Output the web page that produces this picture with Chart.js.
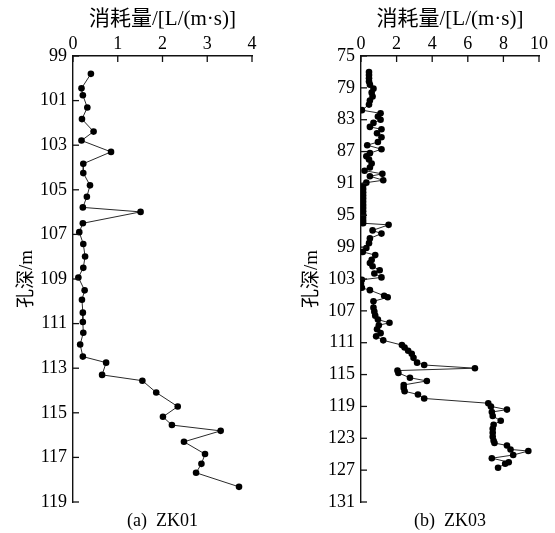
<!DOCTYPE html>
<html lang="zh">
<head>
<meta charset="UTF-8">
<title>ZK01 / ZK03 消耗量</title>
<script src="https://cdn.jsdelivr.net/npm/chart.js"></script>
<style>
  body { margin: 0; background: #fff; }
  #wrap { position: relative; width: 555px; height: 533px; }
  .box { position: absolute; top: 0; height: 533px; }
  #boxA { left: 0; width: 277px; }
  #boxB { left: 277px; width: 278px; }
</style>
</head>
<body>
<div id="wrap">
  <div class="box" id="boxA"><canvas id="zk01"></canvas></div>
  <div class="box" id="boxB"><canvas id="zk03"></canvas></div>
</div>
<script>
// ZK01: depth (m) and water loss
const depthZK01 = [99.8, 100.45, 100.76, 101.31, 101.83, 102.39, 102.79, 103.3, 103.83, 104.25,
  104.8, 105.31, 105.79, 105.99, 106.5, 106.9, 107.43, 107.99, 108.5, 108.93,
  109.51, 109.93, 110.51, 110.93, 111.41, 111.94, 112.48, 112.75, 113.3, 113.56,
  114.09, 114.72, 115.18, 115.55, 115.81, 116.3, 116.85, 117.29, 117.69, 118.32];
const flowZK01 = [0.4, 0.19, 0.22, 0.32, 0.2, 0.46, 0.19, 0.85, 0.23, 0.23,
  0.38, 0.31, 0.22, 1.51, 0.22, 0.14, 0.23, 0.27, 0.23, 0.12,
  0.26, 0.2, 0.22, 0.22, 0.23, 0.16, 0.22, 0.74, 0.65, 1.55,
  1.86, 2.34, 2.01, 2.21, 3.3, 2.48, 2.95, 2.87, 2.75, 3.71];

// ZK03
const depthZK03 = [77.0, 77.4, 77.8, 78.2, 78.6, 79.1, 79.6, 80.1, 80.6, 81.1,
  81.8, 82.2, 82.6, 83.0, 83.4, 83.9, 84.2, 84.7, 85.2, 85.8,
  86.2, 86.7, 87.2, 87.6, 88.0, 88.5, 89.0, 89.4, 89.8, 90.1,
  90.6, 90.9, 91.3, 91.7, 92.1, 92.5, 92.9, 93.3, 93.7, 94.1,
  94.5, 94.9, 95.3, 95.7, 96.0, 96.2, 96.9, 97.3, 97.9, 98.5,
  99.1, 99.6, 100.0, 100.6, 101.0, 101.4, 101.9, 102.3, 102.8, 103.1,
  103.6, 104.1, 104.4, 105.1, 105.3, 105.8, 106.6, 107.1, 107.6, 108.1,
  108.5, 108.8, 109.3, 109.8, 110.2, 110.7, 111.3, 111.6, 112.0, 112.4,
  112.9, 113.5, 113.8, 114.2, 114.5, 114.8, 115.4, 115.8, 116.3, 116.7,
  117.1, 117.5, 118.0, 118.6, 119.0, 119.4, 119.7, 120.2, 120.8, 121.3,
  121.8, 122.3, 122.8, 123.3, 123.6, 123.9, 124.4, 124.6, 125.1, 125.5,
  126.0, 126.2, 126.7];
const flowZK03 = [0.45, 0.45, 0.45, 0.45, 0.5, 0.7, 0.6, 0.65, 0.5, 0.45,
  0.05, 1.1, 0.95, 1.1, 0.7, 0.5, 1.15, 0.9, 1.15, 0.95,
  0.35, 1.15, 0.5, 0.3, 0.45, 0.6, 0.5, 0.2, 1.2, 0.5,
  1.25, 0.3, 0.12, 0.12, 0.12, 0.12, 0.12, 0.12, 0.12, 0.12,
  0.12, 0.12, 0.12, 0.12, 0.12, 1.55, 0.65, 1.15, 0.5, 0.45,
  0.3, 0.1, 0.8, 0.6, 0.5, 0.65, 1.05, 0.75, 1.15, 0.05,
  0.0, 0.05, 0.5, 1.3, 1.5, 0.7, 0.7, 0.75, 0.8, 0.95,
  1.6, 1.0, 0.9, 1.1, 0.85, 1.25, 2.3, 2.45, 2.65, 2.85,
  2.95, 3.15, 3.55, 6.4, 2.05, 2.1, 2.75, 3.7, 2.4, 2.4,
  2.45, 3.2, 3.55, 7.15, 7.3, 8.2, 7.35, 7.4, 7.85, 7.45,
  7.4, 7.4, 7.4, 7.45, 7.5, 8.2, 8.4, 9.4, 8.55, 7.35,
  8.3, 8.1, 7.7];

const FONT = "'Liberation Serif', 'Noto Sans CJK SC', serif";
const xTitle = '消耗量/[L/(m·s)]';
const yTitle = '孔深/m';

// short tick marks pointing into the plot
const inwardTicks = {
  id: 'inwardTicks',
  afterDatasetsDraw(chart) {
    const { ctx, chartArea, scales } = chart;
    ctx.save();
    ctx.strokeStyle = '#111';
    ctx.lineWidth = 1.3;
    scales.x.ticks.forEach(t => {
      const px = scales.x.getPixelForValue(t.value);
      ctx.beginPath();
      ctx.moveTo(px, chartArea.top);
      ctx.lineTo(px, chartArea.top + 6);
      ctx.stroke();
    });
    scales.y.ticks.forEach(t => {
      const py = scales.y.getPixelForValue(t.value);
      ctx.beginPath();
      ctx.moveTo(chartArea.left, py);
      ctx.lineTo(chartArea.left + 6, py);
      ctx.stroke();
    });
    ctx.restore();
  }
};

function makeChart(id, depth, flow, cfg) {
  const points = depth.map((d, i) => ({ x: flow[i], y: d }));
  new Chart(document.getElementById(id), {
    type: 'scatter',
    data: {
      datasets: [{
        data: points,
        showLine: true,
        borderColor: '#2a2a2a',
        borderWidth: 1,
        pointRadius: 3.3,
        pointBackgroundColor: '#000',
        pointBorderColor: '#000',
        pointBorderWidth: 0
      }]
    },
    options: {
      responsive: true,
      maintainAspectRatio: false,
      animation: false,
      layout: { padding: { left: 0, right: cfg.padRight, top: 0, bottom: 0 } },
      plugins: { legend: { display: false }, tooltip: { enabled: false } },
      scales: {
        x: {
          type: 'linear',
          position: 'top',
          min: 0,
          max: cfg.xMax,
          ticks: { stepSize: cfg.xStep, color: '#000', padding: 1, font: { family: FONT, size: 18 } },
          grid: { display: false, drawTicks: false },
          border: { display: true, color: '#111', width: 1.4 },
          title: { display: true, text: xTitle, color: '#000', padding: { top: 7, bottom: 0 }, font: { family: FONT, size: 21 } },
          afterFit: s => { s.height = 56; }
        },
        x2: {
          type: 'linear',
          position: 'bottom',
          ticks: { display: false },
          grid: { display: false, drawTicks: false },
          border: { display: false },
          title: { display: true, text: cfg.caption, color: '#000', padding: { top: 0, bottom: 1.2 }, font: { family: FONT, size: 18 } },
          afterFit: s => { s.height = cfg.padBottom; }
        },
        y: {
          type: 'linear',
          reverse: true,
          min: cfg.yMin,
          max: cfg.yMax,
          ticks: { stepSize: cfg.yStep, color: '#000', padding: 6, font: { family: FONT, size: 18 } },
          grid: { display: false, drawTicks: false },
          border: { display: true, color: '#111', width: 1.4 },
          title: { display: true, text: yTitle, color: '#000', padding: { top: cfg.yTitlePad, bottom: 0 }, font: { family: FONT, size: 19 } },
          afterFit: s => { s.width = cfg.yWidth; }
        }
      }
    },
    plugins: [inwardTicks]
  });
}

makeChart('zk01', depthZK01, flowZK01, {
  xMax: 4, xStep: 1, yMin: 99, yMax: 119, yStep: 2,
  yWidth: 73, padRight: 25, padBottom: 31, yTitlePad: 15.5, caption: '(a)  ZK01'
});
makeChart('zk03', depthZK03, flowZK03, {
  xMax: 10, xStep: 2, yMin: 75, yMax: 131, yStep: 4,
  yWidth: 84, padRight: 16, padBottom: 31, yTitlePad: 23.5, caption: '(b)  ZK03'
});
</script>
</body>
</html>
